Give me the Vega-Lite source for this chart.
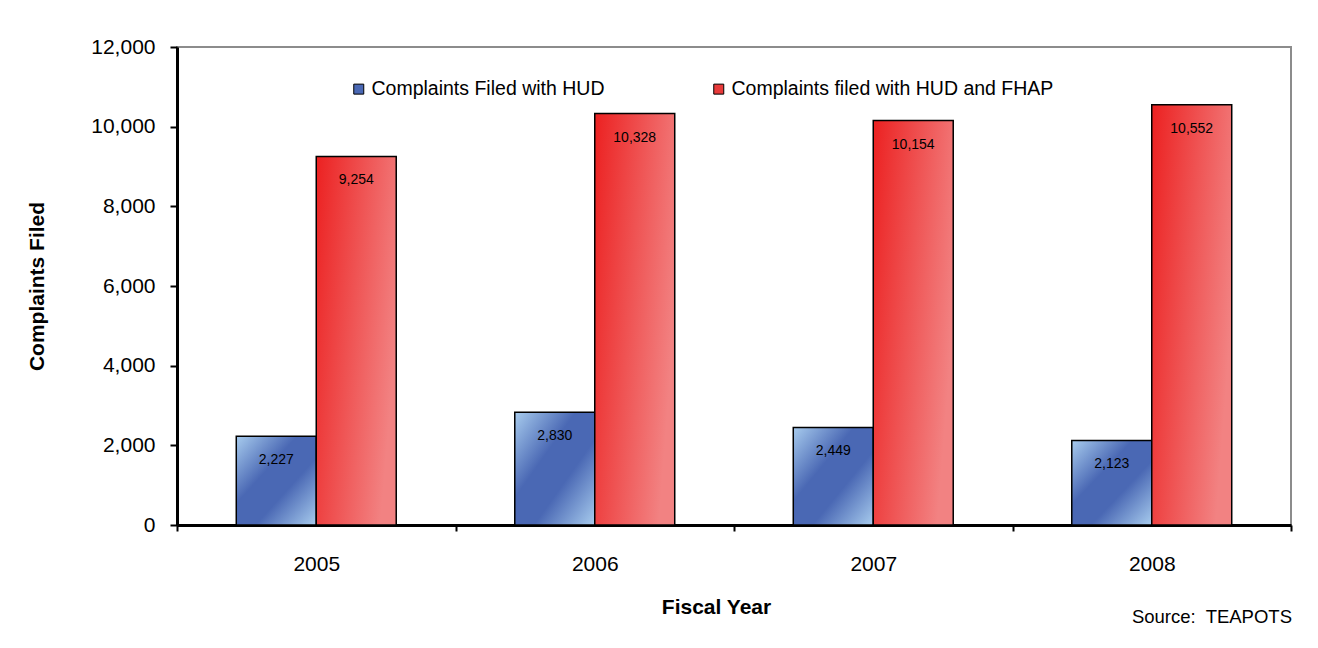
{
  "$schema": "https://vega.github.io/schema/vega-lite/v6.json",
  "width": 1114,
  "height": 478,
  "autosize": {"type": "none"},
  "padding": {"left": 177, "top": 47, "right": 27, "bottom": 123},
  "background": "white",
  "config": {
    "font": "Liberation Sans",
    "view": {"stroke": "#8c8c8c", "strokeWidth": 2}
  },
  "title": {
    "text": "Source:\u00a0 TEAPOTS",
    "orient": "bottom",
    "anchor": "end",
    "fontSize": 18.5,
    "fontWeight": "normal",
    "color": "black",
    "font": "Liberation Sans",
    "offset": -9
  },
  "data": {
    "values": [
      {"year": "2005", "series": "Complaints Filed with HUD", "value": 2227},
      {"year": "2005", "series": "Complaints filed with HUD and FHAP", "value": 9254},
      {"year": "2006", "series": "Complaints Filed with HUD", "value": 2830},
      {"year": "2006", "series": "Complaints filed with HUD and FHAP", "value": 10328},
      {"year": "2007", "series": "Complaints Filed with HUD", "value": 2449},
      {"year": "2007", "series": "Complaints filed with HUD and FHAP", "value": 10154},
      {"year": "2008", "series": "Complaints Filed with HUD", "value": 2123},
      {"year": "2008", "series": "Complaints filed with HUD and FHAP", "value": 10552}
    ]
  },
  "encoding": {
    "x": {
      "field": "year",
      "type": "nominal",
      "scale": {"paddingInner": 0, "paddingOuter": 0},
      "axis": {
        "title": "Fiscal Year",
        "titleFontSize": 21,
        "titleFontWeight": "bold",
        "titleColor": "black",
        "titlePadding": 22,
        "titleX": 539,
        "labelAngle": 0,
        "labelFontSize": 21,
        "labelColor": "black",
        "labelPadding": 22,
        "tickBand": "extent",
        "tickSize": 6,
        "tickColor": "black",
        "tickWidth": 2,
        "domainColor": "black",
        "domainWidth": 3
      }
    },
    "xOffset": {
      "field": "series",
      "type": "nominal",
      "scale": {"domain": ["Complaints Filed with HUD", "Complaints filed with HUD and FHAP"], "paddingInner": 0, "paddingOuter": 0.741}
    },
    "y": {
      "field": "value",
      "type": "quantitative",
      "scale": {"domain": [0, 12000], "nice": false},
      "axis": {
        "title": "Complaints Filed",
        "titleFontSize": 21,
        "titleFontWeight": "bold",
        "titleColor": "black",
        "titlePadding": 43,
        "values": [0, 2000, 4000, 6000, 8000, 10000, 12000],
        "format": ",.0f",
        "labelFontSize": 21,
        "labelColor": "black",
        "labelPadding": 15,
        "tickSize": 7,
        "tickColor": "black",
        "tickWidth": 2,
        "domainColor": "black",
        "domainWidth": 3,
        "grid": false
      }
    }
  },
  "layer": [
    {
      "mark": {"type": "bar"},
      "encoding": {
        "color": {
          "field": "series",
          "type": "nominal",
          "scale": {
            "domain": ["Complaints Filed with HUD", "Complaints filed with HUD and FHAP"],
            "range": ["#4a68b4", "#e83a3a"]
          },
          "legend": {
            "title": null,
            "orient": "none",
            "legendX": 172,
            "legendY": 32,
            "direction": "horizontal",
            "symbolType": "square",
            "symbolSize": 100,
            "symbolStrokeColor": "black",
            "symbolStrokeWidth": 1,
            "symbolOpacity": 1,
            "labelFontSize": 19.5,
            "labelColor": "black",
            "labelOffset": 3,
            "labelLimit": 500,
            "columnPadding": 104
          }
        }
      }
    },
    {
      "mark": {"type": "bar", "stroke": "black", "strokeWidth": 1.5},
      "encoding": {
        "fill": {
          "condition": {
            "test": "datum.series === 'Complaints Filed with HUD'",
            "value": {
              "gradient": "linear",
              "x1": 0, "y1": 0, "x2": 1, "y2": 1,
              "stops": [
                {"offset": 0, "color": "#a8ccee"},
                {"offset": 0.38, "color": "#4a68b4"},
                {"offset": 0.62, "color": "#4a68b4"},
                {"offset": 1, "color": "#a8ccee"}
              ]
            }
          },
          "value": {
            "gradient": "linear",
            "x1": 0, "y1": 0.1, "x2": 1, "y2": 0.5,
            "stops": [
              {"offset": 0, "color": "#ec2424"},
              {"offset": 1, "color": "#f28282"}
            ]
          }
        }
      }
    },
    {
      "mark": {"type": "text", "dy": 24, "baseline": "middle", "align": "center", "fontSize": 14, "color": "black"},
      "encoding": {
        "text": {"field": "value", "type": "quantitative", "format": ","}
      }
    }
  ]
}
